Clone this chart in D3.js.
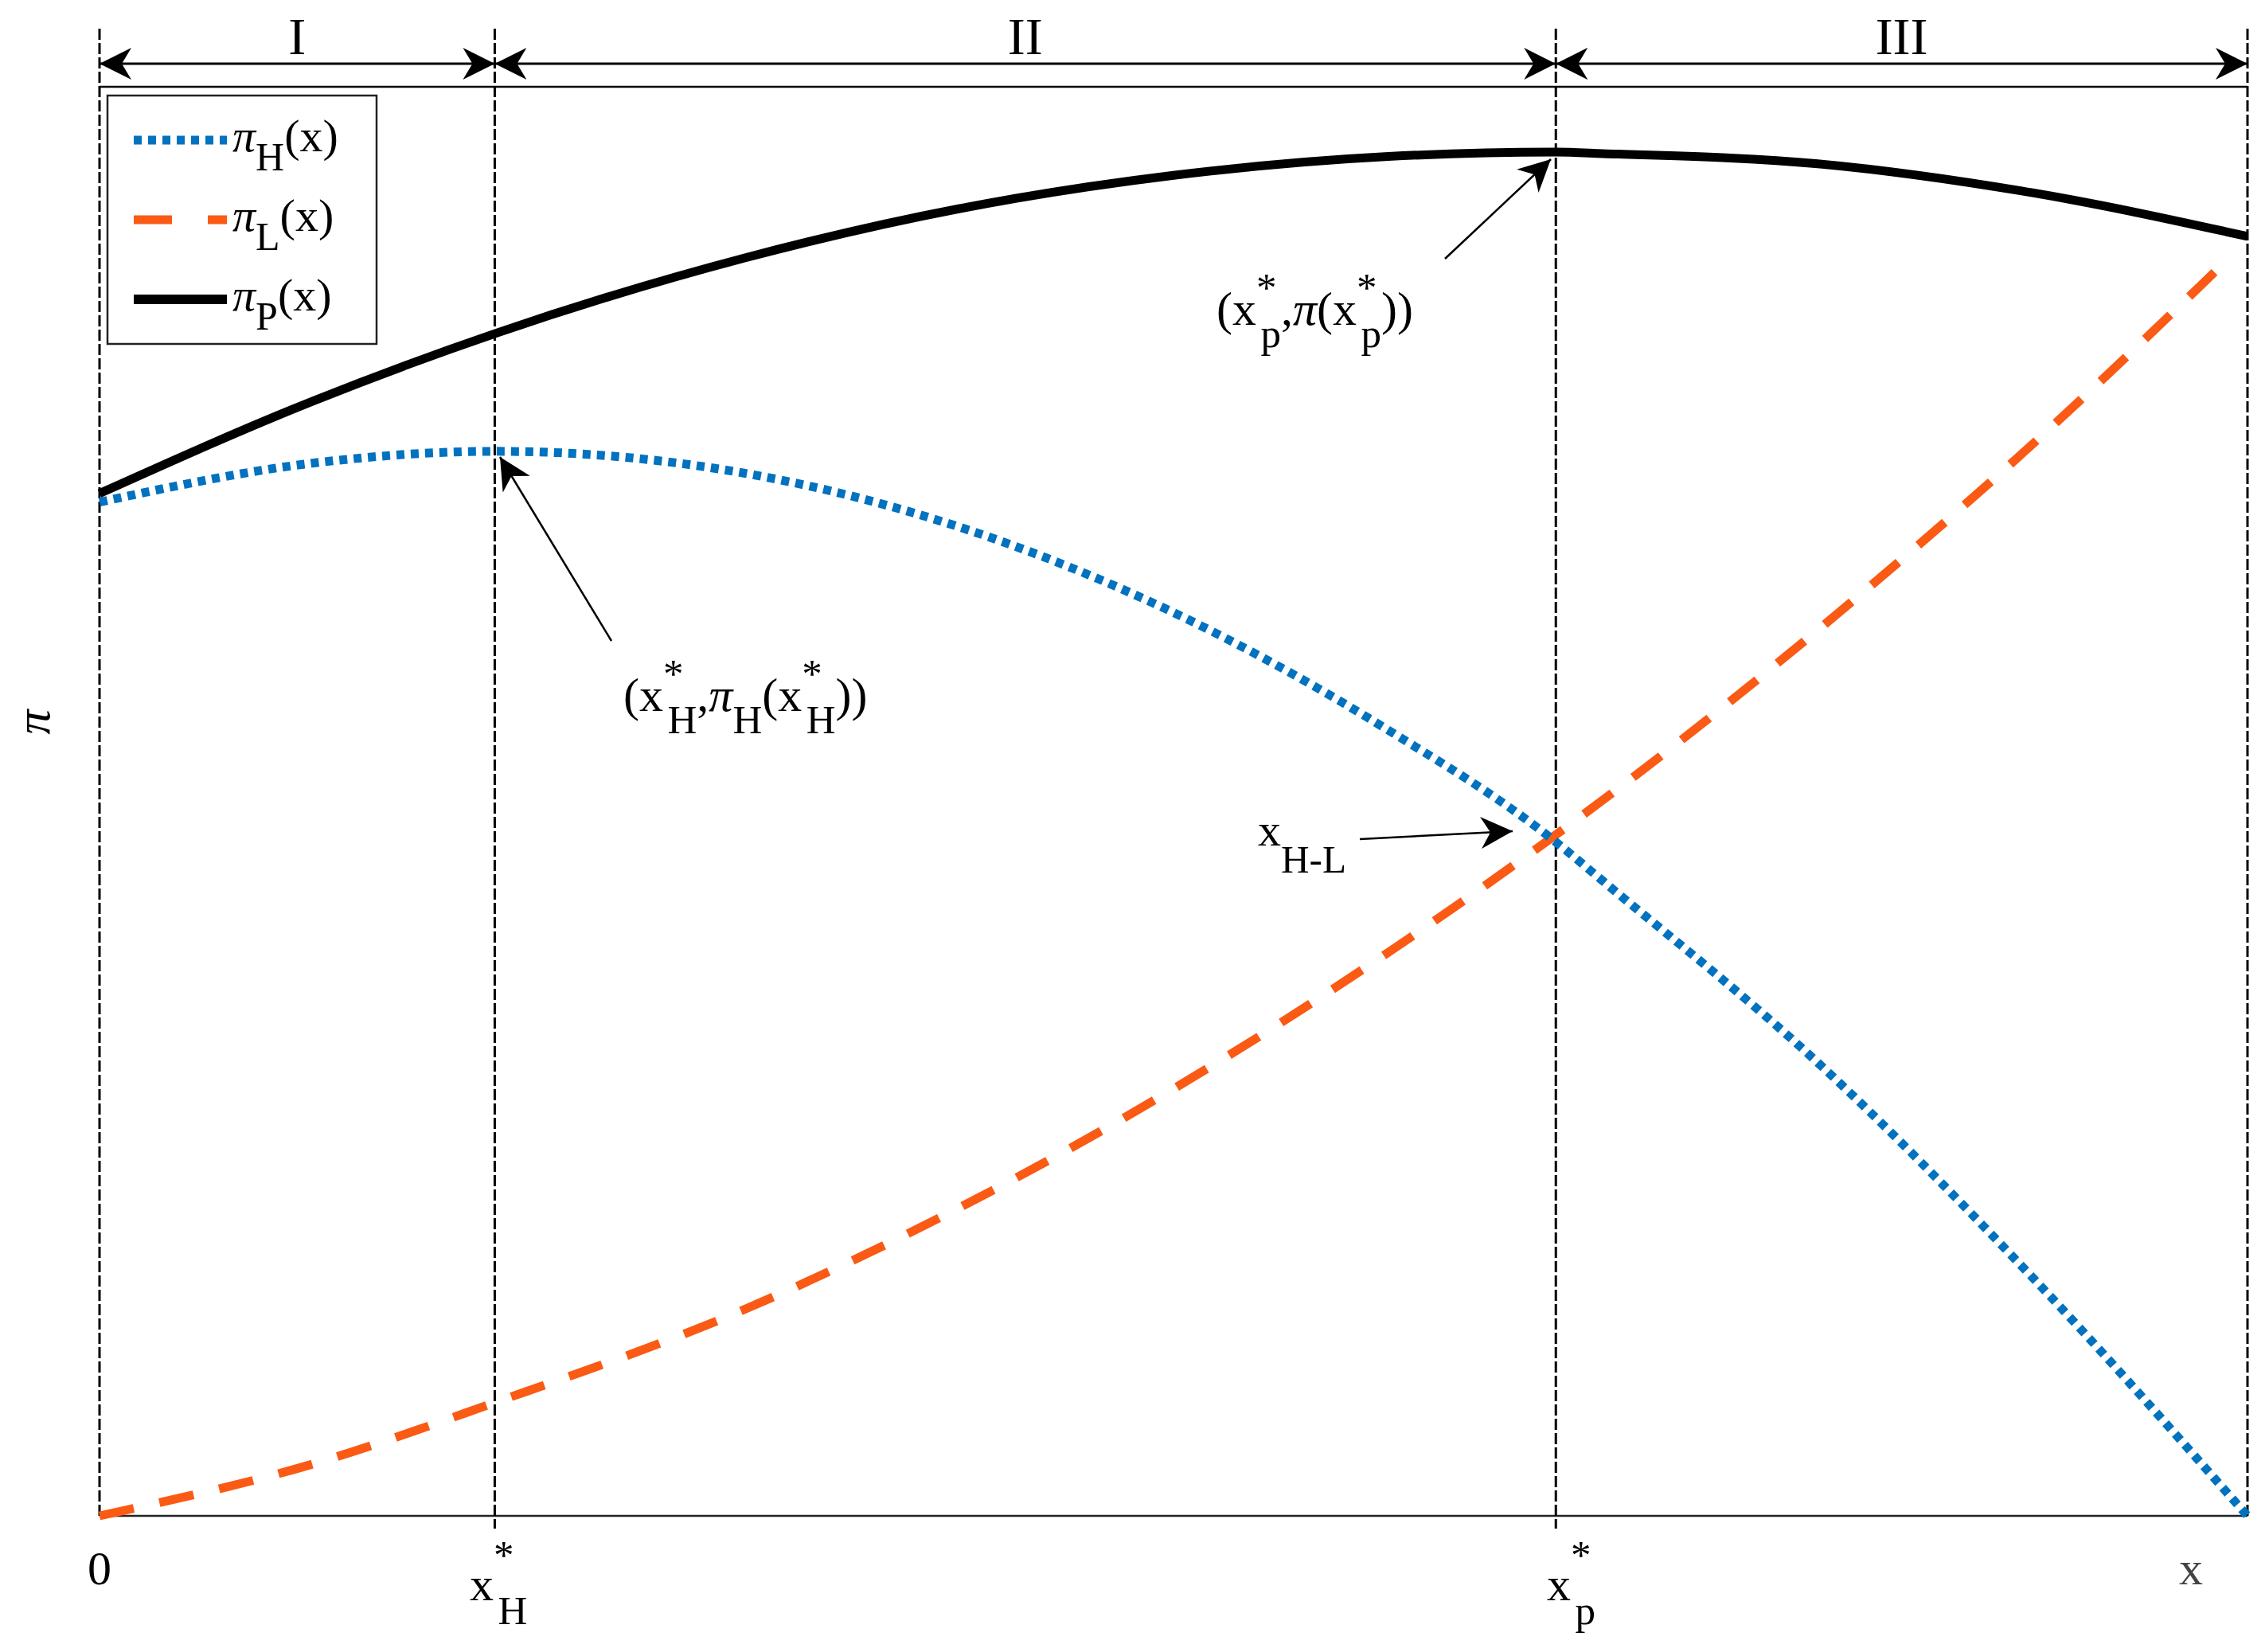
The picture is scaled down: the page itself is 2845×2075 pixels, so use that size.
<!DOCTYPE html>
<html><head><meta charset="utf-8">
<script src="https://cdn.jsdelivr.net/npm/d3@7"></script>
<style>body{margin:0;background:#fff}text{font-family:"Liberation Serif","Times New Roman",serif;fill:#000}</style>
</head><body><svg id="c" width="2845" height="2075"></svg>
<script>
// values (x as share of range, y in relative units)
const xs = [0, 0.1, 0.184, 0.3, 0.4, 0.5, 0.6, 0.678, 0.7, 0.8, 0.9, 1.0]
const piH = [698, 725, 733, 718, 681, 622, 541, 464, 437, 312, 164, 0]
const xsL = [0, 0.1, 0.184, 0.3, 0.4, 0.5, 0.6, 0.678, 0.7, 0.8, 0.9, 0.99]
const piL = [0, 36, 78, 142, 212, 294, 388, 469, 493, 610, 738, 864]
const piP = [704, 768, 814, 866, 900, 923, 936, 939, 938, 931, 911, 881]
const xMarks = [0.184, 0.678]
const regions = ['I', 'II', 'III']

const svg = d3.select('#c')
const x = d3.scaleLinear().domain([0, 1]).range([125, 2823])
const y = d3.scaleLinear().domain([0, 984]).range([1904, 109])

svg.append('defs').append('marker').attr('id', 'ah').attr('viewBox', '0 0 10 10')
    .attr('refX', 10).attr('refY', 5).attr('markerWidth', 40).attr('markerHeight', 40)
    .attr('markerUnits', 'userSpaceOnUse').attr('orient', 'auto-start-reverse')
    .append('path').attr('d', 'M0,0 L10,5 L0,10 L3,5 Z').attr('fill', '#000')

// frame
svg.append('line').attr('x1', x(0)).attr('x2', x(1)).attr('y1', y(984)).attr('y2', y(984)).attr('stroke', '#000').attr('stroke-width', 2.5)
svg.append('line').attr('x1', x(0)).attr('x2', x(1)).attr('y1', y(0)).attr('y2', y(0)).attr('stroke', '#222').attr('stroke-width', 2.5)

// dashed verticals
const vx = [0].concat(xMarks, [1])
svg.selectAll('.v').data(vx).join('line')
    .attr('x1', d => x(d)).attr('x2', d => x(d)).attr('y1', 36).attr('y2', d => (d === 0 || d === 1) ? y(0) : 1920)
    .attr('stroke', '#000').attr('stroke-width', 3).attr('stroke-dasharray', '14,4')

// region arrows
for (let i = 0; i < 3; i++) {
    svg.append('line').attr('x1', x(vx[i])).attr('x2', x(vx[i + 1])).attr('y1', 80).attr('y2', 80)
        .attr('stroke', '#000').attr('stroke-width', 3)
        .attr('marker-start', 'url(#ah)').attr('marker-end', 'url(#ah)')
    svg.append('text').attr('x', (x(vx[i]) + x(vx[i + 1])) / 2).attr('y', 68)
        .attr('text-anchor', 'middle').attr('font-size', 66).text(regions[i])
}

const line = d3.line().curve(d3.curveMonotoneX)
const ptsH = xs.map((d, i) => [x(d), y(piH[i])])
const ptsL = xsL.map((d, i) => [x(d), y(piL[i])])
const ptsP = xs.map((d, i) => [x(d), y(piP[i])])
svg.append('path').attr('d', line(ptsL)).attr('fill', 'none').attr('stroke', '#fa5a14').attr('stroke-width', 11).attr('stroke-dasharray', '44,33')
svg.append('path').attr('d', line(ptsH)).attr('fill', 'none').attr('stroke', '#0072bf').attr('stroke-width', 11).attr('stroke-dasharray', '10,8')
svg.append('path').attr('d', line(ptsP)).attr('fill', 'none').attr('stroke', '#000').attr('stroke-width', 11)

// legend
const lg = svg.append('g')
lg.append('rect').attr('x', 135).attr('y', 120).attr('width', 338).attr('height', 312).attr('fill', '#fff').attr('stroke', '#222').attr('stroke-width', 2.5)
const leg = [['H', '#0072bf', '10,8', 11], ['L', '#fa5a14', '48,45', 11], ['P', '#000', null, 12]]
leg.forEach((d, i) => {
    const yy = 176 + i * 100
    lg.append('line').attr('x1', 168).attr('x2', 285).attr('y1', yy).attr('y2', yy)
        .attr('stroke', d[1]).attr('stroke-width', d[3]).attr('stroke-dasharray', d[2])
    const t = lg.append('text').attr('x', 292).attr('y', yy + 14).attr('font-size', 58)
    t.append('tspan').attr('font-style', 'italic').text('π')
    t.append('tspan').attr('dy', 24).attr('font-size', 50).text(d[0])
    t.append('tspan').attr('dy', -24).text('(x)')
})

// math label helper: [text, baseline shift, italic, dx]
function mlabel(px, py, parts, size) {
    const t = svg.append('text').attr('x', px).attr('y', py).attr('font-size', size)
    let off = 0
    parts.forEach(p => {
        const dy = p[1] - off
        off = p[1]
        const s = t.append('tspan').attr('dy', dy).text(p[0])
        if (p[2]) s.attr('font-style', 'italic')
        if (p[3]) s.attr('dx', p[3])
        if (p[1] !== 0) s.attr('font-size', size * 0.85)
    })
    return t
}
function arrow(x1, y1, x2, y2) {
    svg.append('line').attr('x1', x1).attr('y1', y1).attr('x2', x2).attr('y2', y2)
        .attr('stroke', '#000').attr('stroke-width', 2.5).attr('marker-end', 'url(#ah)')
}

mlabel(783, 893, [['(x', 0], ['*', -30], ['H', 28, false, -20], [',', 0], ['π', 0, true], ['H', 28], ['(x', 0], ['*', -30], ['H', 28, false, -20], ['))', 0]], 60)
arrow(768, 805, 628, 574)
mlabel(1528, 408, [['(x', 0], ['*', -30], ['p', 28, false, -20], [',', 0], ['π', 0, true], ['(x', 0], ['*', -30], ['p', 28, false, -20], ['))', 0]], 60)
arrow(1815, 325, 1948, 200)
mlabel(1580, 1062, [['x', 0], ['H-L', 34]], 58)
arrow(1708, 1054, 1900, 1044)

// axis labels
svg.append('text').attr('x', x(0)).attr('y', 1990).attr('text-anchor', 'middle').attr('font-size', 60).text('0')
svg.append('text').attr('x', 2752).attr('y', 1990).attr('text-anchor', 'middle').attr('font-size', 60).style('fill', '#444').text('x')
mlabel(590, 2010, [['x', 0], ['*', -40], ['H', 30, false, -20]], 60)
mlabel(1943, 2010, [['x', 0], ['*', -40], ['p', 30, false, -20]], 60)
svg.append('text').attr('transform', 'translate(62,907) rotate(-90)').attr('text-anchor', 'middle')
    .attr('font-size', 62).attr('font-style', 'italic').text('π')
</script></body></html>
